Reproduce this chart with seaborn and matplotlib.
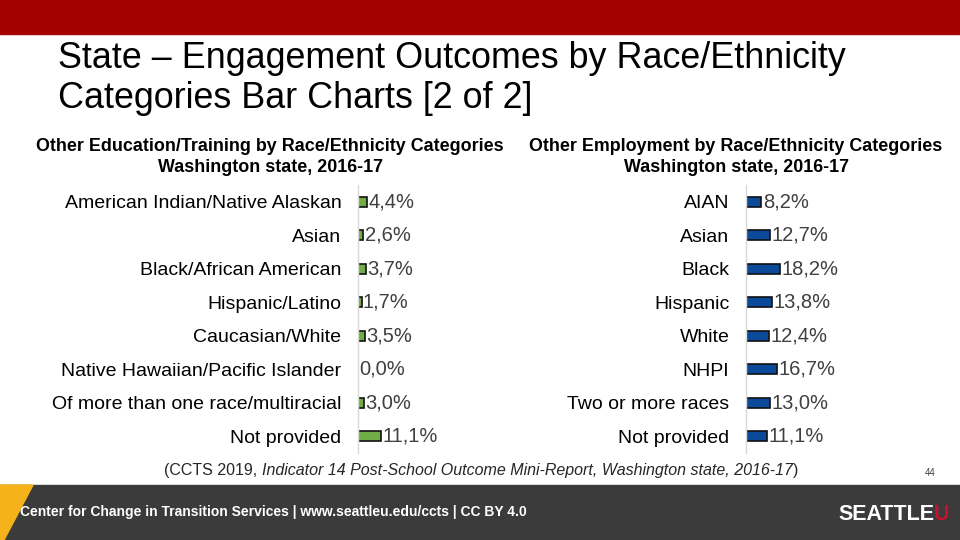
import numpy as np
import pandas as pd
import matplotlib
matplotlib.use("Agg")
import matplotlib.pyplot as plt
import seaborn as sns
from matplotlib.patches import Rectangle, Polygon

# Data
edu_groups = ['American Indian/Native Alaskan', 'Asian', 'Black/African American',
              'Hispanic/Latino', 'Caucasian/White', 'Native Hawaiian/Pacific Islander',
              'Of more than one race/multiracial', 'Not provided']
edu_values = [4.4, 2.6, 3.7, 1.7, 3.5, 0.0, 3.0, 11.1]

emp_groups = ['AIAN', 'Asian', 'Black', 'Hispanic', 'White', 'NHPI',
              'Two or more races', 'Not provided']
emp_values = [8.2, 12.7, 18.2, 13.8, 12.4, 16.7, 13.0, 11.1]

sns.set_theme(style="white")
plt.rcParams['font.family'] = ['Liberation Sans', 'DejaVu Sans']
plt.rcParams['text.color'] = 'black'

W, H = 960, 540
fig = plt.figure(figsize=(9.6, 5.4), dpi=100)

def fx(px):
    return px / W

def fy(py):
    return 1 - py / H

# header / footer bands
fig.patches.append(Rectangle((0, fy(34)), 1, 34 / H, transform=fig.transFigure,
                             color='#A50000', zorder=0))
fig.patches.append(Rectangle((0, 0), 1, (H - 485) / H, transform=fig.transFigure,
                             color='#3B3B3B', zorder=0))
fig.patches.append(Polygon([(0, fy(485)), (fx(33), fy(485)), (fx(4), fy(540)), (0, fy(540))],
                           closed=True, transform=fig.transFigure, color='#F5B21A', zorder=1))

fig.text(fx(58), fy(59), 'State – Engagement Outcomes by Race/Ethnicity',
         fontsize=25.8, va='center', ha='left', color='black')
fig.text(fx(58), fy(98), 'Categories Bar Charts [2 of 2]',
         fontsize=25.8, va='center', ha='left', color='black')


def draw_panel(left_px, right_px, groups, values, color, edge, xmax, title, center_px):
    ax = fig.add_axes([fx(left_px), fy(453), fx(right_px - left_px), (453 - 185) / H])
    df = pd.DataFrame({'group': groups, 'value': values})
    sns.barplot(data=df, x='value', y='group', orient='h', ax=ax, color=color,
                width=0.3, edgecolor=edge, linewidth=1.2, saturation=1)
    ax.set_xlim(0, xmax)
    ax.set_xlabel('')
    ax.set_ylabel('')
    ax.set_xticks([])
    for s in ['top', 'right', 'bottom']:
        ax.spines[s].set_visible(False)
    ax.spines['left'].set_color('#D9D9D9')
    ax.spines['left'].set_linewidth(1)
    ax.tick_params(axis='y', length=0, pad=12, labelsize=14, labelcolor='black')
    ax.patch.set_alpha(0)
    labels = [f'{v:.1f}%'.replace('.', ',') for v in values]
    ax.bar_label(ax.containers[0], labels=labels, padding=1, fontsize=14.5, color='#404040')
    fig.text(fx(center_px), fy(147), title, fontsize=12.9, fontweight='bold',
             ha='center', va='center', color='black')
    fig.text(fx(center_px), fy(168), 'Washington state, 2016-17', fontsize=12.9,
             fontweight='bold', ha='center', va='center', color='black')
    return ax


draw_panel(358, 525, edu_groups, edu_values, '#70AD47', '#111111', 80,
           'Other Education/Training by Race/Ethnicity Categories', 270)
draw_panel(746, 933, emp_groups, emp_values, '#0B4A9B', '#111111', 100,
           'Other Employment by Race/Ethnicity Categories', 736)

# citation line, mixed roman / italic
fig.canvas.draw()
renderer = fig.canvas.get_renderer()
pieces = [('(CCTS 2019, ', 'normal'),
          ('Indicator 14 Post-School Outcome Mini-Report, Washington state, 2016-17', 'italic'),
          (')', 'normal')]
texts = []
for s, st in pieces:
    t = fig.text(0, fy(471), s, fontsize=11.5, style=st, color='#262626', va='center', ha='left')
    texts.append(t)
widths = [t.get_window_extent(renderer).width for t in texts]
x0 = 481 - sum(widths) / 2
for t, w in zip(texts, widths):
    t.set_x(fx(x0))
    x0 += w

fig.text(fx(930), fy(473), '44', fontsize=7, color='#404040', va='center', ha='center')

fig.text(fx(20), fy(512), 'Center for Change in Transition Services | www.seattleu.edu/ccts | CC BY 4.0',
         fontsize=10, color='white', fontweight='bold', va='center', ha='left')
t1 = fig.text(fx(838), fy(515), 'SEATTLE', fontsize=15.5, color='white', fontweight='bold',
              va='center', ha='left')
fig.canvas.draw()
bb = t1.get_window_extent(fig.canvas.get_renderer())
fig.text(bb.x1 / W, fy(515), 'U', fontsize=15.5, color='#C8102E', fontweight='bold',
         va='center', ha='left')

fig.savefig('out.png', dpi=100)
